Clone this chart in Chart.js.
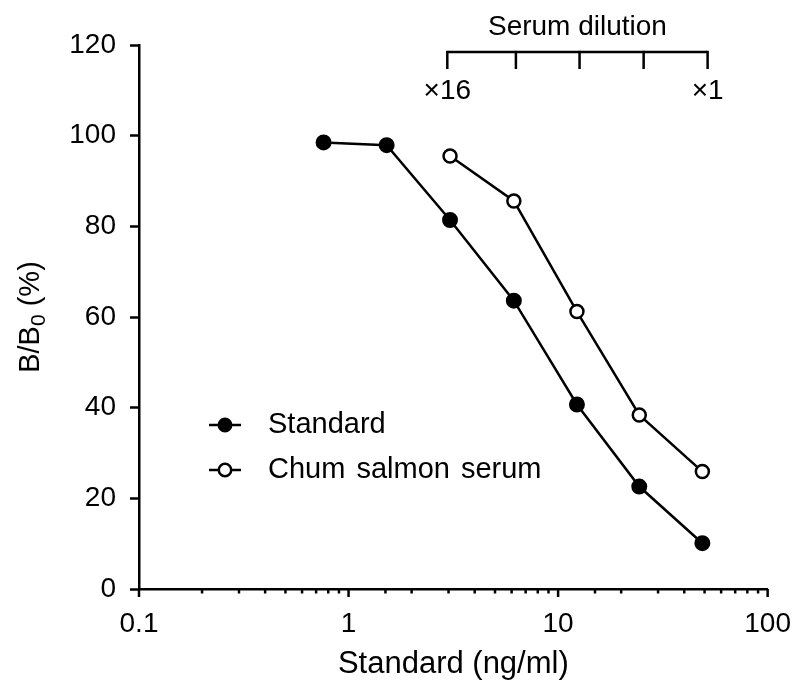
<!DOCTYPE html>
<html>
<head>
<meta charset="utf-8">
<script src="https://cdn.jsdelivr.net/npm/chart.js@4/dist/chart.umd.min.js"></script>
<style>
  html, body { margin: 0; padding: 0; background: #fff; }
  #wrap { width: 801px; height: 681px; }
</style>
</head>
<body>
<div id="wrap"><canvas id="rcChart" width="801" height="681"></canvas></div>
<script>
// concentrations (ng/ml) and binding (% B/B0)
const stdConc   = [0.76, 1.52, 3.05, 6.15, 12.3, 24.4, 48.8];
const stdBind   = [98.5, 97.9, 81.4, 63.6, 40.7, 22.6, 10.1];
const serumConc = [3.05, 6.15, 12.3, 24.4, 48.8];
const serumBind = [95.5, 85.6, 61.2, 38.4, 25.9];

const seriesNames = ["Standard", "Chum salmon serum"];

// serum dilution bracket along the top
const dilutionX      = [2.96, 6.29, 12.66, 25.6, 51.7];
const dilutionLabels = ["×16", "", "", "", "×1"];

const xTickLabels = ["0.1", "1", "10", "100"];
const yTicks = [0, 20, 40, 60, 80, 100, 120];

const FONT = "'Liberation Sans', Arial, Helvetica, sans-serif";
const FS = 28;

function pts(xs, ys) {
  return xs.map((x, i) => ({ x: x, y: ys[i] }));
}

function isDecade(v) {
  const l = Math.log10(v);
  return Math.abs(l - Math.round(l)) < 1e-9;
}

// extra drawing: x tick marks, axis titles, legend, dilution bracket
const extras = {
  id: "extras",
  afterDraw(chart) {
    const ctx = chart.ctx;
    const xs = chart.scales.x;
    const area = chart.chartArea;
    ctx.save();
    ctx.strokeStyle = "#000";
    ctx.fillStyle = "#000";
    ctx.lineWidth = 2.5;

    // x ticks, long at decades
    xs.ticks.forEach(t => {
      const px = xs.getPixelForValue(t.value);
      const len = isDecade(t.value) ? 8 : 4.5;
      ctx.beginPath();
      ctx.moveTo(px, area.bottom);
      ctx.lineTo(px, area.bottom + len);
      ctx.stroke();
    });

    // x title
    ctx.font = "31px " + FONT;
    ctx.textAlign = "center";
    ctx.textBaseline = "alphabetic";
    ctx.fillText("Standard (ng/ml)", (area.left + area.right) / 2, 673);

    // y title with subscript
    ctx.save();
    ctx.translate(39, (area.top + area.bottom) / 2);
    ctx.rotate(-Math.PI / 2);
    const a = "B/B", sub = "0", b = " (%)";
    ctx.font = "29px " + FONT;
    const wa = ctx.measureText(a).width, wb = ctx.measureText(b).width;
    ctx.font = "21px " + FONT;
    const ws = ctx.measureText(sub).width;
    let x0 = -(wa + ws + wb) / 2;
    ctx.textAlign = "left";
    ctx.font = "29px " + FONT;
    ctx.fillText(a, x0, 0);
    ctx.font = "21px " + FONT;
    ctx.fillText(sub, x0 + wa, 6);
    ctx.font = "29px " + FONT;
    ctx.fillText(b, x0 + wa + ws, 0);
    ctx.restore();

    // legend
    const legendRows = [
      { y: 425, fill: "#000" },
      { y: 470, fill: "#fff" }
    ];
    chart.data.datasets.forEach((ds, i) => {
      const row = legendRows[i];
      ctx.beginPath();
      ctx.moveTo(209, row.y);
      ctx.lineTo(241, row.y);
      ctx.stroke();
      ctx.beginPath();
      ctx.arc(225, row.y, 6.2, 0, Math.PI * 2);
      ctx.fillStyle = row.fill;
      ctx.fill();
      ctx.stroke();
      ctx.fillStyle = "#000";
      ctx.font = "29px " + FONT;
      if ("wordSpacing" in ctx) ctx.wordSpacing = "3px";
      ctx.textAlign = "left";
      ctx.textBaseline = "middle";
      ctx.fillText(ds.label, 268, row.y);
      if ("wordSpacing" in ctx) ctx.wordSpacing = "0px";
    });

    // serum dilution bracket
    ctx.font = FS + "px " + FONT;
    const top = area.top + 7;
    const xl = xs.getPixelForValue(dilutionX[0]);
    const xr = xs.getPixelForValue(dilutionX[dilutionX.length - 1]);
    ctx.beginPath();
    ctx.moveTo(xl, top);
    ctx.lineTo(xr, top);
    ctx.stroke();
    dilutionX.forEach((v, i) => {
      const px = xs.getPixelForValue(v);
      ctx.beginPath();
      ctx.moveTo(px, top - 1.2);
      ctx.lineTo(px, top + 17);
      ctx.stroke();
      if (dilutionLabels[i]) {
        ctx.textAlign = "center";
        ctx.textBaseline = "alphabetic";
        ctx.fillText(dilutionLabels[i], px, area.top + 54);
      }
    });
    ctx.textAlign = "center";
    ctx.textBaseline = "alphabetic";
    ctx.fillText("Serum dilution", (xl + xr) / 2, area.top - 10);

    ctx.restore();
  }
};

Chart.defaults.font.family = FONT;
Chart.defaults.font.size = FS;
Chart.defaults.color = "#000";

new Chart(document.getElementById("rcChart"), {
  type: "line",
  data: {
    datasets: [
      {
        label: seriesNames[0],
        data: pts(stdConc, stdBind),
        borderColor: "#000",
        borderWidth: 2.5,
        backgroundColor: "#000",
        pointRadius: 7,
        pointBorderWidth: 2,
        pointBackgroundColor: "#000",
        pointBorderColor: "#000",
        tension: 0
      },
      {
        label: seriesNames[1],
        data: pts(serumConc, serumBind),
        borderColor: "#000",
        borderWidth: 2.5,
        backgroundColor: "#fff",
        pointRadius: 6.5,
        pointBorderWidth: 2.5,
        pointBackgroundColor: "#fff",
        pointBorderColor: "#000",
        tension: 0
      }
    ]
  },
  options: {
    responsive: false,
    animation: false,
    layout: { padding: { top: 45, right: 29, left: 0, bottom: 0 } },
    plugins: {
      legend: { display: false },
      tooltip: { enabled: false }
    },
    scales: {
      x: {
        type: "logarithmic",
        min: 0.1,
        max: 100,
        afterFit: (s) => { s.height = 92; },
        border: { display: true, color: "#000", width: 2.5 },
        grid: {
          display: true,
          drawOnChartArea: false,
          drawTicks: true,
          tickLength: 8,
          tickColor: "rgba(0,0,0,0)"
        },
        ticks: {
          autoSkip: false,
          maxRotation: 0,
          padding: 10,
          callback: function (v) {
            if (!isDecade(v)) return "";
            const k = Math.round(Math.log10(v)) + 1;
            return xTickLabels[k] || "";
          }
        }
      },
      y: {
        min: 0,
        max: 120,
        afterFit: (s) => { s.width = 139; },
        afterBuildTicks: (s) => { s.ticks = yTicks.map(v => ({ value: v })); },
        border: { display: true, color: "#000", width: 2.5 },
        grid: {
          display: true,
          drawOnChartArea: false,
          drawTicks: true,
          tickLength: 9,
          tickWidth: 2.5,
          tickColor: "#000"
        },
        ticks: { padding: 14 }
      }
    }
  },
  plugins: [extras]
});
</script>
</body>
</html>
